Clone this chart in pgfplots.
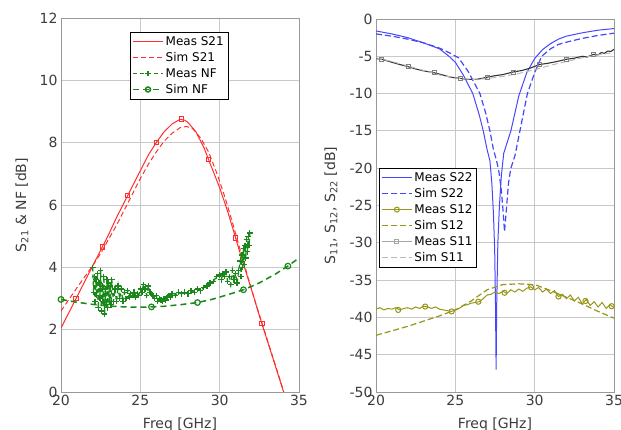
\documentclass[border=0pt]{standalone}
\usepackage{fontspec}
\setmainfont{DejaVu Sans}
\usepackage{pgfplots}
\pgfplotsset{compat=1.18}
\definecolor{mred}{RGB}{255,45,45}
\definecolor{mgreen}{RGB}{25,135,25}
\definecolor{mblue}{RGB}{70,70,255}
\definecolor{molive}{RGB}{150,150,25}
\definecolor{gridgray}{RGB}{200,200,200}
\definecolor{txt}{RGB}{60,60,60}

\pgfplotsset{
 legend image code/.code={\draw[mark repeat=2,mark phase=2,#1] plot coordinates {(0pt,0pt) (15pt,0pt) (30pt,0pt)};},
 common/.style={
  scale only axis, width=238pt, xmin=20, xmax=35, xtick={20,25,30,35},
  grid=major, major grid style={gridgray, line width=0.8pt},
  axis line style={gray!80, line width=0.8pt}, tick style={draw=none},
  tick label style={font=\fontsize{14}{16}\selectfont, text=txt},
  /pgf/number format/assume math mode=true,
  xlabel={Freq [GHz]},
  every axis x label/.style={at={(axis description cs:0.5,-0.088)}, anchor=center, font=\fontsize{14}{16}\selectfont, text=txt},
  legend style={font=\fontsize{12}{13}\selectfont, fill=white, inner sep=2pt, row sep=1.5pt, cells={anchor=west}},
 }
}

\begin{document}
\begin{tikzpicture}
\path[use as bounding box] (0,0) rectangle (621pt,430pt);

% ---------------- left axis ----------------
\begin{axis}[common, at={(61pt,38pt)}, anchor=south west, height=374pt,
  ymin=0, ymax=12, ytick={0,2,...,12},
  ylabel={S\textsubscript{21} \& NF [dB]},
  every axis y label/.style={at={(axis description cs:-0.164,0.5)}, rotate=90, anchor=center, font=\fontsize{14}{16}\selectfont, text=txt},
  legend style={at={(axis description cs:0.29,0.962)}, anchor=north west}]

% Meas S21
\addplot[mred, line width=1pt] coordinates {
(20,2.05) (20.5,2.55) (21,3.05) (21.5,3.55) (22,4.05) (22.5,4.55) (23,5.05) (23.5,5.6)
(24,6.1) (24.5,6.6) (25,7.1) (25.5,7.6) (26,8.0) (26.5,8.35) (27,8.6) (27.5,8.75)
(27.8,8.72) (28,8.65) (28.5,8.35) (29,7.85) (29.5,7.2) (30,6.55) (30.5,5.8) (31,4.95)
(31.5,4.1) (32,3.3) (32.5,2.45) (33,1.65) (33.5,0.85) (34,0.05) (34.3,-0.4)};
\addlegendentry{Meas S21}

% Sim S21
\addplot[mred, line width=1pt, dash pattern=on 5pt off 3pt] coordinates {
(20,2.6) (20.5,2.97) (21,3.34) (21.5,3.7) (22,4.05) (22.5,4.45) (23,4.9) (23.5,5.35)
(24,5.85) (24.5,6.35) (25,6.85) (25.5,7.3) (26,7.7) (26.5,8.05) (27,8.3) (27.5,8.48)
(27.9,8.52) (28.3,8.45) (28.8,8.15) (29.3,7.7) (29.8,7.05) (30.3,6.3) (30.8,5.45)
(31.3,4.55) (31.8,3.65) (32.3,2.8) (32.8,2.0) (33.3,1.2) (33.8,0.4) (34.1,-0.1)};
\addlegendentry{Sim S21}

% Meas NF
\addplot[mgreen, line width=1.3pt, dash pattern=on 4pt off 3pt, mark=+, mark size=2.8pt, mark options={solid, line width=1.3pt}] coordinates {
(22.0,4.0) (22.05,3.2) (22.1,3.7) (22.15,2.9) (22.2,3.6) (22.25,3.1) (22.3,3.8) (22.35,2.7)
(22.4,3.5) (22.45,3.0) (22.5,3.9) (22.55,2.6) (22.6,3.4) (22.65,2.9) (22.7,3.7) (22.75,2.5)
(22.8,3.3) (22.85,2.8) (22.9,3.6) (22.95,2.7) (23.0,3.5) (23.05,2.9) (23.1,3.4) (23.15,2.8)
(23.2,3.6) (23.3,2.9) (23.4,3.3) (23.5,2.9) (23.6,3.4) (23.7,3.0) (23.8,3.3) (23.9,2.9)
(24.0,3.2) (24.1,3.0) (24.2,3.25) (24.3,3.05) (24.4,3.15) (24.5,3.1) (24.6,3.2) (24.7,3.05)
(24.8,3.15) (24.9,3.1) (25.0,3.3) (25.1,3.2) (25.2,3.45) (25.3,3.3) (25.4,3.1) (25.5,3.4)
(25.6,3.2) (25.7,3.15) (25.8,3.1) (25.9,3.0) (26.0,3.1) (26.1,2.9) (26.2,3.0) (26.3,2.95)
(26.4,2.9) (26.5,3.0) (26.6,2.95) (26.7,3.05) (26.8,3.1) (26.9,3.05) (27.0,3.15) (27.2,3.1)
(27.4,3.2) (27.6,3.15) (27.8,3.2) (28.0,3.15) (28.2,3.25) (28.4,3.2) (28.6,3.3) (28.8,3.25)
(29.0,3.35) (29.2,3.4) (29.4,3.5) (29.6,3.55) (29.8,3.7) (30.0,3.75) (30.1,3.6) (30.2,3.8)
(30.3,3.7) (30.4,3.85) (30.5,3.55) (30.6,3.7) (30.7,3.45) (30.8,3.9) (30.9,3.6) (31.0,3.8)
(31.1,3.5) (31.2,3.9) (31.3,4.2) (31.35,3.7) (31.4,4.4) (31.45,4.0) (31.5,4.6) (31.55,4.1)
(31.6,4.7) (31.65,4.3) (31.7,4.9) (31.75,4.5) (31.8,5.0) (31.85,4.7) (31.9,5.1)};
\addlegendentry{Meas NF}

% Sim NF
\addplot[mgreen, line width=1.5pt, dash pattern=on 6pt off 4pt, legend image post style={mark=o, mark size=2.5pt, mark options={solid}}] coordinates {
(20,2.97) (21,2.88) (22,2.81) (23,2.76) (24,2.73) (25,2.72) (25.7,2.73) (26.5,2.75)
(27.5,2.8) (28.6,2.87) (29.5,2.97) (30.5,3.12) (31.5,3.28) (32.5,3.5) (33.5,3.78) (34.3,4.04) (35,4.3)};
\addlegendentry{Sim NF}
\addplot[forget plot, only marks, mgreen, line width=1.2pt, mark=o, mark size=2.8pt] coordinates {
(20,2.97) (25.7,2.73) (28.6,2.87) (31.5,3.28) (34.3,4.04)};

\addplot[forget plot, only marks, mred, mark=square, mark size=2.2pt, line width=0.8pt] coordinates {
(20.95,3.0) (22.6,4.65) (24.2,6.3) (26.0,8.0) (27.6,8.76) (29.3,7.47) (31.0,4.95) (32.65,2.2)};
\end{axis}

% ---------------- right axis ----------------
\begin{axis}[common, at={(376pt,38pt)}, anchor=south west, height=373pt,
  ymin=-50, ymax=0, ytick={-50,-45,...,0},
  ylabel={S\textsubscript{11}, S\textsubscript{12}, S\textsubscript{22} [dB]},
  every axis y label/.style={at={(axis description cs:-0.189,0.5)}, rotate=90, anchor=center, font=\fontsize{14}{16}\selectfont, text=txt},
  legend style={at={(axis description cs:0.013,0.60)}, anchor=north west}]

% Meas S22
\addplot[mblue, line width=1pt] coordinates {
(20,-1.6) (21,-2.0) (22,-2.5) (23,-3.2) (24,-4.0) (24.6,-5.0) (25,-5.8) (25.5,-7.5)
(26.1,-10) (26.5,-12.8) (26.76,-15) (27.0,-17.5) (27.18,-19) (27.3,-22) (27.4,-26)
(27.48,-31) (27.53,-38) (27.57,-47) (27.61,-38) (27.68,-30) (27.78,-25) (27.9,-21)
(28.05,-18) (28.5,-15) (29.0,-10.3) (29.5,-7.2) (30.0,-5.3) (30.5,-4.1) (31,-3.3)
(31.5,-2.7) (32,-2.3) (33,-1.85) (34,-1.5) (35,-1.28)};
\addlegendentry{Meas S22}

% Sim S22
\addplot[mblue, line width=1.2pt, dash pattern=on 6pt off 3pt] coordinates {
(20,-2.0) (21,-2.3) (22,-2.7) (23,-3.2) (24,-3.9) (24.6,-4.5) (25.2,-5.2) (25.8,-7.0)
(26.3,-9.0) (26.55,-10) (26.9,-12.5) (27.18,-15) (27.4,-17.5) (27.6,-19) (27.75,-20.5)
(27.9,-23) (28.0,-25.5) (28.1,-28.5) (28.2,-26) (28.35,-22) (28.5,-20) (28.76,-18.3)
(29.07,-15) (29.54,-10) (30.0,-7.2) (30.44,-5.0) (31,-4.0) (31.5,-3.4) (32.2,-3.0)
(33,-2.6) (34,-2.2) (35,-1.9)};
\addlegendentry{Sim S22}

% Meas S12
\addplot[molive, line width=1pt, legend image post style={mark=o, mark size=2.5pt}] coordinates {
(20,-38.9) (20.25,-38.7) (20.5,-39.0) (20.75,-38.8) (21,-38.9) (21.25,-38.7) (21.5,-39.0) (21.75,-38.8)
(22,-38.7) (22.25,-38.9) (22.5,-38.6) (22.75,-38.8) (23,-38.5) (23.25,-38.6) (23.5,-38.8) (23.75,-38.6)
(24,-38.9) (24.25,-39.0) (24.5,-39.1) (24.75,-39.2) (25,-39.0) (25.25,-38.8) (25.5,-38.4) (25.75,-38.3)
(26,-38.1) (26.25,-38.0) (26.5,-37.9) (26.75,-37.5) (27,-37.0) (27.25,-36.9) (27.5,-36.6) (27.75,-36.8)
(28,-36.5) (28.25,-36.8) (28.5,-36.3) (28.75,-36.6) (29,-36.2) (29.25,-36.5) (29.5,-36.1) (29.75,-35.9)
(30,-36.3) (30.25,-36.0) (30.5,-36.6) (30.75,-36.2) (31,-36.8) (31.25,-36.4) (31.5,-37.2) (31.75,-36.9)
(32,-37.5) (32.25,-37.0) (32.5,-37.8) (32.75,-37.3) (33,-38.2) (33.25,-37.6) (33.5,-38.4) (33.75,-37.9)
(34,-38.6) (34.25,-38.0) (34.5,-38.8) (34.75,-38.3) (35,-38.7)};
\addlegendentry{Meas S12}

% Sim S12
\addplot[molive, line width=1.2pt, dash pattern=on 6pt off 3pt] coordinates {
(20,-42.4) (22,-41.2) (24,-39.8) (25,-39.0) (26,-37.8) (27,-36.3) (28,-35.6) (29,-35.5)
(30,-35.6) (31,-36.4) (32,-37.3) (33,-38.2) (34,-39.2) (35,-40.1)};
\addlegendentry{Sim S12}

% Meas S11
\addplot[black!80, line width=1.1pt, legend image post style={gray!70, line width=0.8pt, mark=square, mark size=2pt}] coordinates {
(20,-5.3) (20.36,-5.4) (21,-5.8) (21.5,-6.1) (22.04,-6.4) (22.5,-6.7) (23,-6.95) (23.66,-7.2)
(24.2,-7.5) (24.7,-7.8) (25.3,-7.96) (25.8,-8.1) (26.3,-8.1) (26.7,-7.95) (27.0,-7.8) (27.5,-7.6)
(28,-7.45) (28.65,-7.1) (29.2,-6.9) (29.7,-6.6) (30.3,-6.1) (30.8,-5.95) (31.4,-5.7) (32.0,-5.4)
(32.5,-5.25) (33.0,-5.0) (33.3,-5.1) (33.7,-4.75) (34.0,-4.8) (34.2,-4.5) (34.4,-4.6) (34.6,-4.3) (34.8,-4.35) (35,-4.07)};
\addlegendentry{Meas S11}

% Sim S11
\addplot[gray!55, line width=1pt, dash pattern=on 6pt off 3pt] coordinates {
(20,-5.2) (21,-5.7) (22,-6.3) (23,-6.9) (24,-7.5) (25,-7.9) (26,-8.1) (27,-8.0) (28,-7.7)
(29,-7.3) (30,-6.8) (31,-6.2) (32,-5.7) (33,-5.2) (34,-4.8) (35,-4.5)};
\addlegendentry{Sim S11}

\addplot[forget plot, only marks, gray, mark=square, mark size=2pt, line width=0.8pt] coordinates {
(20.36,-5.4) (22.04,-6.4) (23.66,-7.2) (25.3,-7.96) (27.0,-7.8) (28.65,-7.1) (30.3,-6.1) (32.0,-5.4) (33.7,-4.75)};
\addplot[forget plot, only marks, molive, mark=o, mark size=2.6pt, line width=1pt] coordinates {
(21.4,-39.0) (23.1,-38.55) (24.77,-39.2) (26.45,-37.9) (28.1,-36.7) (29.77,-35.95) (31.5,-37.2) (33.2,-37.8) (34.85,-38.5)};
\end{axis}
\end{tikzpicture}
\end{document}
